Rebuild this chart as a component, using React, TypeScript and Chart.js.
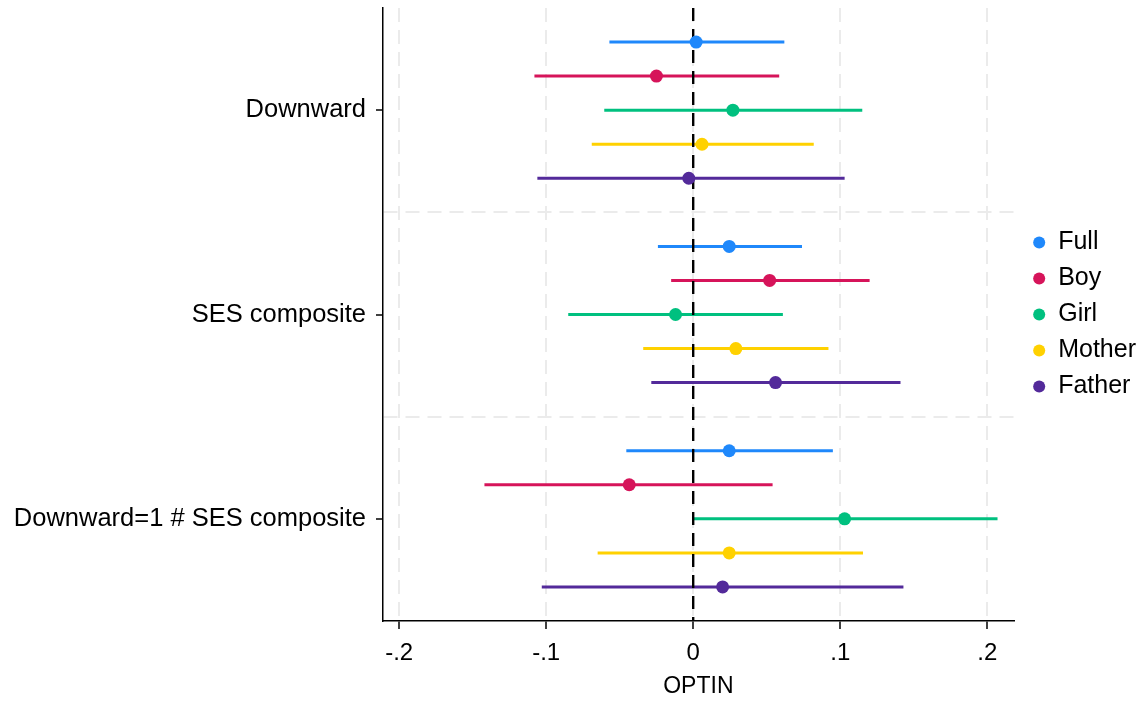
import React, { useEffect, useRef } from "react";
import { Chart, registerables } from "chart.js";

Chart.register(...registerables);

const groupLabels = ["Downward", "SES composite", "Downward=1 # SES composite"];
const seriesNames = ["Full", "Boy", "Girl", "Mother", "Father"];
const seriesColors = ["#1f88fb", "#d6145a", "#00c07f", "#ffd100", "#532a9a"];

// estimates and 95% CI per series, one value per group
const fullEst = [0.002, 0.0245, 0.0245];
const fullLo = [-0.057, -0.024, -0.0455];
const fullHi = [0.062, 0.074, 0.095];

const boyEst = [-0.025, 0.052, -0.0435];
const boyLo = [-0.108, -0.015, -0.142];
const boyHi = [0.0585, 0.12, 0.054];

const girlEst = [0.027, -0.012, 0.103];
const girlLo = [-0.0605, -0.085, 0.0005];
const girlHi = [0.115, 0.061, 0.207];

const motherEst = [0.006, 0.029, 0.0245];
const motherLo = [-0.069, -0.034, -0.065];
const motherHi = [0.082, 0.092, 0.1155];

const fatherEst = [-0.003, 0.056, 0.02];
const fatherLo = [-0.106, -0.0285, -0.103];
const fatherHi = [0.103, 0.141, 0.143];

const xTicks = [-0.2, -0.1, 0, 0.1, 0.2];
const xTickLabels = ["-.2", "-.1", "0", ".1", ".2"];

const estimates = [fullEst, boyEst, girlEst, motherEst, fatherEst];
const lowers = [fullLo, boyLo, girlLo, motherLo, fatherLo];
const uppers = [fullHi, boyHi, girlHi, motherHi, fatherHi];

const GROUP_STEP = 6;
const rowPos = (g: number, s: number) => g * GROUP_STEP + s;
const labelPos = groupLabels.map((_, g) => g * GROUP_STEP + 2);
const separatorPos = [5, 11];

const FONT = "'Liberation Sans', Arial, Helvetica, sans-serif";
const LEGEND_GAP = 8;
const GRID_COLOR = "#ebebeb";

const legendShift = {
  id: "legendShift",
  afterLayout(chart: any) {
    if (chart.legend) {
      chart.legend.left += LEGEND_GAP;
      chart.legend.right += LEGEND_GAP;
    }
  },
};

export default function App() {
  const canvasRef = useRef<HTMLCanvasElement | null>(null);

  useEffect(() => {
    document.body.style.margin = "0";
    const canvas = canvasRef.current;
    if (!canvas) return;

    const pointDatasets = seriesNames.map((name, s) => ({
      type: "scatter" as const,
      label: name,
      data: groupLabels.map((_, g) => ({ x: estimates[s][g], y: rowPos(g, s) })),
      backgroundColor: seriesColors[s],
      borderColor: seriesColors[s],
      pointRadius: 6.5,
      pointBorderWidth: 0,
      pointHoverRadius: 6.5,
      isPoint: true,
    }));

    const zeroLine = {
      type: "line" as const,
      label: "zero",
      data: [
        { x: 0, y: -1 },
        { x: 0, y: 17 },
      ],
      borderColor: "#000000",
      borderWidth: 2.4,
      borderDash: [13, 8],
      pointRadius: 0,
      fill: false,
    };

    const ciDatasets: any[] = [];
    seriesNames.forEach((name, s) => {
      groupLabels.forEach((_, g) => {
        ciDatasets.push({
          type: "line" as const,
          label: name + " CI " + g,
          data: [
            { x: lowers[s][g], y: rowPos(g, s) },
            { x: uppers[s][g], y: rowPos(g, s) },
          ],
          borderColor: seriesColors[s],
          borderWidth: 3,
          pointRadius: 0,
          fill: false,
        });
      });
    });

    const chart = new Chart(canvas, {
      type: "scatter",
      data: { datasets: [...pointDatasets, zeroLine, ...ciDatasets] as any },
      plugins: [legendShift],
      options: {
        animation: false,
        responsive: true,
        maintainAspectRatio: false,
        layout: { padding: { top: 8, right: 9, bottom: 0, left: 0 } },
        plugins: {
          tooltip: { enabled: false },
          legend: {
            position: "right",
            fullSize: false,
            labels: {
              usePointStyle: true,
              pointStyle: "circle",
              boxWidth: 13,
              boxHeight: 8.5,
              padding: 11,
              color: "#000000",
              font: { family: FONT, size: 25 },
              filter: (item: any, data: any) =>
                !!(data.datasets[item.datasetIndex] as any).isPoint,
            },
          },
        },
        scales: {
          x: {
            type: "linear",
            min: -0.211,
            max: 0.218,
            afterBuildTicks: (scale: any) => {
              scale.ticks = xTicks.map((v) => ({ value: v }));
            },
            afterFit: (scale: any) => {
              scale.height = 81;
              scale.paddingLeft = 0;
              scale.paddingRight = 0;
            },
            ticks: {
              color: "#000000",
              font: { family: FONT, size: 24 },
              padding: 10,
              maxRotation: 0,
              callback: (v: any) => {
                const i = xTicks.findIndex((t) => Math.abs(t - Number(v)) < 1e-9);
                return i >= 0 ? xTickLabels[i] : "";
              },
            },
            grid: {
              color: GRID_COLOR,
              lineWidth: 2,
              tickColor: "#000000",
              tickWidth: 1.5,
              tickLength: 8,
              tickBorderDash: [],
            },
            border: { color: "#000000", width: 1.5, dash: [14, 8] },
            title: {
              display: true,
              text: "OPTIN",
              color: "#000000",
              font: { family: FONT, size: 23 },
              padding: { top: 0, bottom: 2 },
            },
          },
          y: {
            type: "linear",
            min: -1,
            max: 17,
            reverse: true,
            afterBuildTicks: (scale: any) => {
              scale.ticks = [...labelPos, ...separatorPos]
                .sort((a, b) => a - b)
                .map((v) => ({ value: v }));
            },
            afterFit: (scale: any) => {
              scale.width = 383;
              scale.paddingTop = 0;
              scale.paddingBottom = 0;
            },
            ticks: {
              color: "#000000",
              font: { family: FONT, size: 25.5 },
              padding: 10,
              callback: (v: any) => {
                const i = labelPos.indexOf(Number(v));
                return i >= 0 ? groupLabels[i] : "";
              },
            },
            grid: {
              color: (ctx: any) =>
                separatorPos.includes(ctx.tick?.value) ? GRID_COLOR : "rgba(0,0,0,0)",
              lineWidth: 2,
              tickColor: (ctx: any) =>
                labelPos.includes(ctx.tick?.value) ? "#000000" : "rgba(0,0,0,0)",
              tickWidth: 1.5,
              tickLength: 7,
              tickBorderDash: [],
            },
            border: { color: "#000000", width: 1.5, dash: [14, 8] },
          },
        },
      } as any,
    });

    return () => chart.destroy();
  }, []);

  return (
    <div style={{ width: 1147, height: 702, position: "relative" }}>
      <canvas ref={canvasRef} />
    </div>
  );
}
